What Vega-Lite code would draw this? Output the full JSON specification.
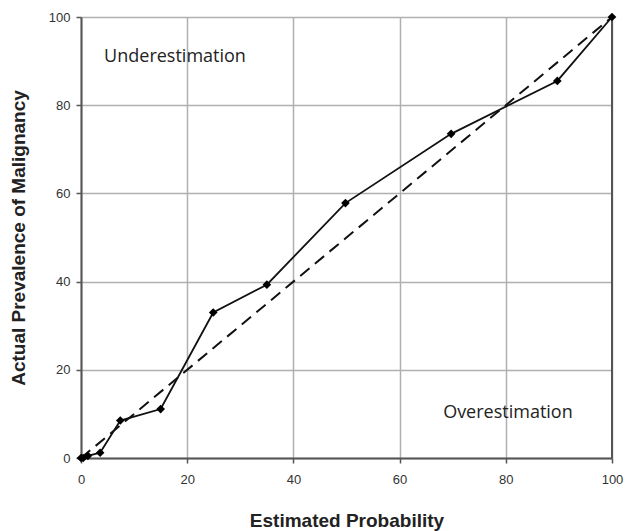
{
  "$schema": "https://vega.github.io/schema/vega-lite/v6.json",
  "autosize": "none",
  "width": 531,
  "height": 441,
  "padding": {"left": 81, "top": 17, "right": 14, "bottom": 73},
  "background": "white",
  "config": {
    "view": {"stroke": null},
    "axis": {
      "labelFont": "Liberation Sans",
      "labelFontSize": 13,
      "labelColor": "#333333",
      "labelFlush": false,
      "titleFont": "Liberation Sans",
      "titleFontSize": 19,
      "titleFontWeight": "bold",
      "titleColor": "#222222",
      "gridColor": "#b0b0b0",
      "gridWidth": 1.5,
      "domainColor": "#555555",
      "domainWidth": 2,
      "tickColor": "#555555",
      "tickWidth": 1.5,
      "tickSize": 5
    }
  },
  "datasets": {
    "calib": [
      {"estimated": 0, "actual": 0},
      {"estimated": 0.4, "actual": 0},
      {"estimated": 1.3, "actual": 0.5},
      {"estimated": 3.6, "actual": 1.2},
      {"estimated": 7.4, "actual": 8.5},
      {"estimated": 15, "actual": 11.1},
      {"estimated": 24.9, "actual": 33.0},
      {"estimated": 35, "actual": 39.3},
      {"estimated": 49.8, "actual": 57.8},
      {"estimated": 69.7, "actual": 73.5},
      {"estimated": 89.7, "actual": 85.5},
      {"estimated": 100, "actual": 100}
    ],
    "ideal": [
      {"estimated": 0, "actual": 0},
      {"estimated": 100, "actual": 100}
    ],
    "notes": [
      {"estimated": 17.7, "actual": 90.9, "label": "Underestimation"},
      {"estimated": 80.4, "actual": 10.2, "label": "Overestimation"}
    ]
  },
  "layer": [
    {
      "data": {"name": "ideal"},
      "mark": {"type": "line", "color": "#111111", "strokeWidth": 2, "strokeDash": [12, 7]},
      "encoding": {
        "x": {
          "field": "estimated", "type": "quantitative",
          "scale": {"domain": [0, 100], "nice": false},
          "axis": {"values": [0, 20, 40, 60, 80, 100], "title": "Estimated Probability", "labelPadding": 10, "titlePadding": 25}
        },
        "y": {
          "field": "actual", "type": "quantitative",
          "scale": {"domain": [0, 100], "nice": false},
          "axis": {"values": [0, 20, 40, 60, 80, 100], "title": "Actual Prevalence of Malignancy", "labelPadding": 6, "titlePadding": 20}
        }
      }
    },
    {
      "data": {"name": "ideal"},
      "mark": {"type": "rule", "color": "#555555", "strokeWidth": 2},
      "encoding": {
        "x": {"datum": 100, "type": "quantitative"},
        "y": {"datum": 0, "type": "quantitative"},
        "y2": {"datum": 100}
      }
    },
    {
      "data": {"name": "calib"},
      "mark": {"type": "line", "color": "#111111", "strokeWidth": 1.8, "point": {"shape": "diamond", "filled": true, "size": 75, "color": "#000000"}},
      "encoding": {
        "x": {"field": "estimated", "type": "quantitative"},
        "y": {"field": "actual", "type": "quantitative"}
      }
    },
    {
      "data": {"name": "notes"},
      "mark": {"type": "text", "font": "Open Sans", "fontSize": 18, "color": "#222222", "align": "center", "baseline": "middle"},
      "encoding": {
        "x": {"field": "estimated", "type": "quantitative"},
        "y": {"field": "actual", "type": "quantitative"},
        "text": {"field": "label"}
      }
    }
  ]
}
